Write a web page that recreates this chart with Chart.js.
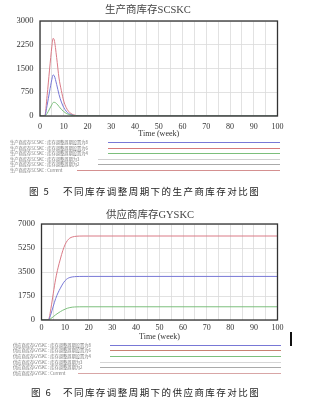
<!DOCTYPE html>
<html><head><meta charset="utf-8">
<script src="https://cdn.jsdelivr.net/npm/chart.js@4"></script>
<style>
html,body{margin:0;padding:0;background:#fff;}
body{width:310px;height:406px;position:relative;overflow:hidden;font-family:"Liberation Serif","Noto Sans CJK SC",serif;}
canvas{position:absolute;left:0;}
.ttl{position:absolute;text-align:center;font-size:10.5px;line-height:14px;color:#444;white-space:nowrap;}
.lg{position:absolute;left:0;height:6px;width:310px;}
.lg span{position:absolute;top:0;font-family:"Noto Sans CJK SC",sans-serif;font-size:8.5px;line-height:10px;color:#777;transform:scale(0.5);transform-origin:0 0;white-space:nowrap;}
.lg i{position:absolute;height:1px;top:3px;}
.cap{position:absolute;font-family:"Noto Sans CJK SC",sans-serif;font-size:9.5px;line-height:12px;color:#222;white-space:nowrap;letter-spacing:1.45px;}
</style></head>
<body>
<canvas id="c1" width="310" height="140" style="top:0;width:310px;height:140px"></canvas>
<canvas id="c2" width="310" height="144" style="top:200px;width:310px;height:144px"></canvas>
<div class="ttl" style="left:0;width:296px;top:3px;">生产商库存SCSKC</div>
<div class="ttl" style="left:0;width:300px;top:208px;">供应商库存GYSKC</div>
<div id="leg1"></div>
<div id="leg2"></div>
<div class="cap" style="left:29px;top:185px;">图 5</div>
<div class="cap" style="left:63px;top:185px;">不同库存调整周期下的生产商库存对比图</div>
<div class="cap" style="left:31px;top:386px;">图 6</div>
<div class="cap" style="left:63px;top:386px;">不同库存调整周期下的供应商库存对比图</div>
<div style="position:absolute;left:290px;top:332px;width:2px;height:14px;background:#111;"></div>
<script>
// ---- data ----
const times1 = [0,1,2,3,4,5,5.5,6,7,8,9,10,11,12,13,14,15,16,18,20,100];
const scRed   = [0,0,0,650,1450,2200,2450,2400,1850,1200,800,470,270,150,80,40,20,8,0,0,0];
const scBlue  = [0,0,0,340,760,1160,1295,1270,1000,680,440,270,155,85,45,22,10,4,0,0,0];
const scGreen = [0,0,0,80,220,360,425,433,390,300,210,140,85,50,28,15,7,3,0,0,0];

const times2 = [0,1,2,3,4,5,6,7,8,9,10,11,12,13,14,15,16,18,20,100];
const gyRed   = [0,0,0,40,850,1950,3000,3800,4450,5050,5500,5800,5970,6050,6090,6110,6120,6125,6125,6125];
const gyBlue  = [0,0,0,20,440,1010,1560,1980,2320,2630,2870,3020,3100,3140,3160,3170,3175,3178,3178,3178];
const gyGreen = [0,0,0,5,110,240,380,500,610,710,790,860,905,935,950,958,962,965,965,965];

const xTicks = [0,10,20,30,40,50,60,70,80,90,100];
const yTicks1 = [0,750,1500,2250,3000];
const yTicks2 = [0,1750,3500,5250,7000];

const legend1 = ["生产商库存SCSKC : 库存调整周期设置为8","生产商库存SCSKC : 库存调整周期设置为6","生产商库存SCSKC : 库存调整周期设置为4","生产商库存SCSKC : 库存调整周期为3","生产商库存SCSKC : 库存调整周期为2","生产商库存SCSKC : Current"];
const legend2 = ["供应商库存GYSKC : 库存调整周期设置为8","供应商库存GYSKC : 库存调整周期设置为6","供应商库存GYSKC : 库存调整周期设置为4","供应商库存GYSKC : 库存调整周期为3","供应商库存GYSKC : 库存调整周期为2","供应商库存GYSKC : Current"];

// ---- styles ----
const RED = '#da7a86', BLUE = '#7878d6', GREEN = '#7cbf7c';
const legColors1 = [BLUE, '#d67a7a', GREEN, '#d0d0d0', '#aaaaaa', '#d49090'];
const legColors2 = [BLUE, '#c88272', GREEN, '#d6d6d6', '#aaaaaa', '#d8a6a6'];

function pts(t, v){ return t.map((x,i)=>({x:x,y:v[i]})); }

const boxPlugin = {
  id:'box',
  afterDraw(chart){
    const a = chart.chartArea, ctx = chart.ctx;
    ctx.save(); ctx.strokeStyle='#333'; ctx.lineWidth=1.3;
    ctx.strokeRect(a.left, a.top, a.right-a.left, a.bottom-a.top);
    ctx.restore();
  }
};

function makeChart(id, times, series, yTicks, cfg){
  const ymax = yTicks[yTicks.length-1];
  return new Chart(document.getElementById(id), {
    type:'line',
    data:{datasets: series.map(s=>({data:pts(times,s.v), borderColor:s.c, borderWidth:1, pointRadius:0, fill:false, cubicInterpolationMode:'monotone'}))},
    options:{
      responsive:false, animation:false, events:[],
      layout:{padding:{top:cfg.top, right:32.5, left:0, bottom:0}},
      plugins:{legend:{display:false}, tooltip:{enabled:false}, title:{display:false}},
      scales:{
        x:{type:'linear', min:0, max:100,
           afterBuildTicks(s){ const t=[]; for(let i=0;i<=100;i+=5) t.push({value:i}); s.ticks=t; },
           afterFit(s){ s.height = 24; },
           ticks:{autoSkip:false, maxRotation:0, padding:cfg.xpad, color:'#333', font:{family:'Liberation Serif', size:8},
                  callback:(v)=> xTicks.includes(v) ? String(v) : ''},
           grid:{color:'#dadada', lineWidth:0.8, drawTicks:false},
           border:{display:false},
           title:{display:true, text:'Time (week)', color:'#333', font:{family:'Liberation Serif', size:8}, padding:{top:0,bottom:cfg.tpad}}
        },
        y:{min:0, max:ymax,
           afterBuildTicks(s){ s.ticks = yTicks.map(v=>({value:v})); },
           afterFit(s){ s.width = cfg.left; },
           ticks:{padding:6.5, color:'#333', font:{family:'Liberation Serif', size:8.5}, callback:(v)=>String(v)},
           grid:{color:'#dadada', lineWidth:0.8, drawTicks:false},
           border:{display:false}
        }
      }
    },
    plugins:[boxPlugin]
  });
}

makeChart('c1', times1, [{v:scGreen,c:GREEN},{v:scBlue,c:BLUE},{v:scRed,c:RED}], yTicks1, {top:21, left:40, xpad:6, tpad:1.2});
makeChart('c2', times2, [{v:gyGreen,c:GREEN},{v:gyBlue,c:BLUE},{v:gyRed,c:RED}], yTicks2, {top:24, left:41.5, xpad:3.2, tpad:2.2});

function buildLegend(elId, texts, colors, rows, textX, lineStarts, lineEnd){
  const el = document.getElementById(elId);
  texts.forEach((t,i)=>{
    const d = document.createElement('div'); d.className='lg'; d.style.top=(rows[i]-3)+'px';
    const s = document.createElement('span'); s.textContent=t; s.style.left=textX+'px';
    const l = document.createElement('i'); l.style.left=lineStarts[i]+'px'; l.style.width=(lineEnd-lineStarts[i])+'px'; l.style.background=colors[i];
    d.appendChild(s); d.appendChild(l); el.appendChild(d);
  });
}
buildLegend('leg1', legend1, legColors1, [142.3,147.7,153.3,158.9,164.3,169.5], 10, [108,108,108,98,98,77], 280);
buildLegend('leg2', legend2, legColors2, [345,350.4,356,361.6,367.2,372.7], 12.7, [110,110,110,100,100,78], 281);
</script>
</body></html>
